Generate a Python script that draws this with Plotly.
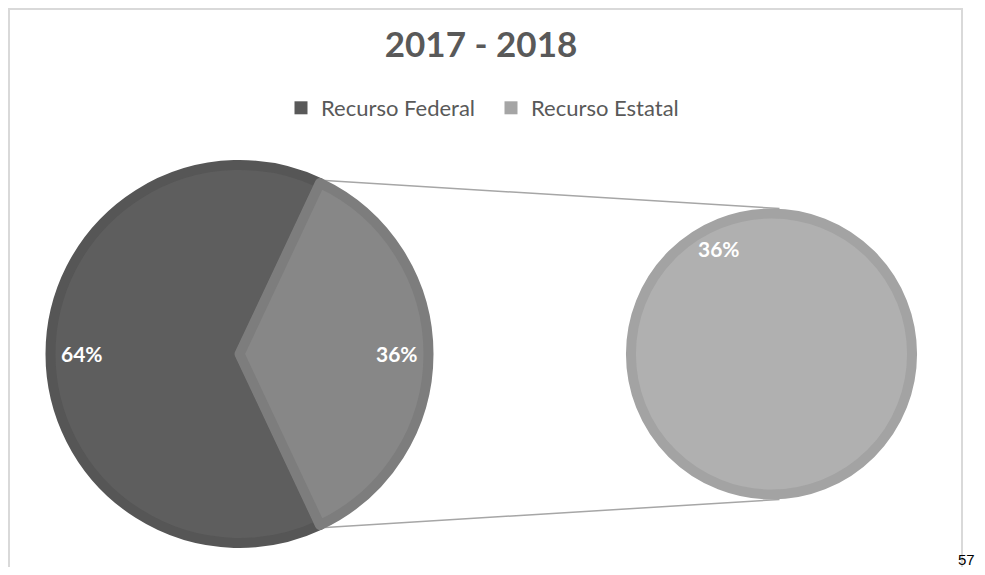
import math

import plotly.graph_objects as go

# the page body has an 8px margin, so the figure starts at (8, 8) of the window;
# keep it small enough that nothing gets clipped
OFF = 8
W, H = 985 - 2 * OFF, 575 - 2 * OFF

chart_title = "2017 - 2018"
labels = ["Recurso Federal", "Recurso Estatal"]
values = [64, 36]
# the split-off slice ("Recurso Estatal") shown again as its own pie
detail_labels = ["Recurso Estatal"]
detail_values = [36]
page_number = "57"

pie_fill = ["#5e5e5e", "#878787"]
pie_edge = ["#565656", "#7d7d7d"]
detail_fill = "#b0b0b0"
detail_edge = "#a3a3a3"
legend_colors = ["#595959", "#a5a5a5"]
text_grey = "#595959"
font_main = "Lato"


def px_x(x):
    return (x - OFF) / W


def px_y(y):
    return 1 - (y - OFF) / H


def pie_domain(cx, cy, r):
    return {"x": [px_x(cx - r), px_x(cx + r)], "y": [px_y(cy + r), px_y(cy - r)]}


# geometry in window pixels (chart is laid out with zero margins)
main_c = (239.5, 354)
main_outer = 194
detail_c = (771.5, 354)
detail_outer = 145.5
edge_w = 10

total = sum(values)
split_half = 180 * values[1] / total  # half the angle of the split slice

fig = go.Figure()

fig.add_trace(
    go.Pie(
        labels=labels,
        values=values,
        sort=False,
        direction="clockwise",
        rotation=90 + split_half,
        marker={"colors": pie_fill, "line": {"color": pie_edge, "width": edge_w}},
        textinfo="none",
        hoverinfo="label+percent",
        showlegend=False,
        domain=pie_domain(*main_c, main_outer - edge_w / 2),
    )
)

fig.add_trace(
    go.Pie(
        labels=detail_labels,
        values=detail_values,
        sort=False,
        marker={"colors": [detail_fill], "line": {"color": detail_edge, "width": edge_w}},
        textinfo="none",
        hoverinfo="label",
        showlegend=False,
        domain=pie_domain(*detail_c, detail_outer - edge_w / 2),
    )
)

# legend entries
for name, color in zip(labels, legend_colors):
    fig.add_trace(
        go.Scatter(
            x=[None],
            y=[None],
            mode="markers",
            name=name,
            marker={"symbol": "square", "size": 13, "color": color},
        )
    )

# data labels, placed like Excel's best fit (about 0.81 of the radius)
label_font = {"family": font_main, "size": 21, "color": "white", "weight": "bold"}
mid_angles = [180, 0]  # Federal on the left, Estatal on the right
for v, ang in zip(values, mid_angles):
    rr = main_outer * 0.81
    x = main_c[0] + rr * math.cos(math.radians(ang))
    y = main_c[1] - rr * math.sin(math.radians(ang))
    fig.add_annotation(x=px_x(x), y=px_y(y), xref="paper", yref="paper",
                       xanchor="center", yanchor="middle",
                       text=f"{v / total:.0%}", showarrow=False, font=label_font)

rr = detail_outer * 0.81
ang = 116.6
fig.add_annotation(
    x=px_x(detail_c[0] + rr * math.cos(math.radians(ang))),
    y=px_y(detail_c[1] - rr * math.sin(math.radians(ang))),
    xref="paper", yref="paper", xanchor="center", yanchor="middle",
    text=f"{detail_values[0] / total:.0%}", showarrow=False, font=label_font,
)

# connector lines between the split slice and the detail pie
a = math.radians(split_half)
for sgn in (1, -1):
    x0 = main_c[0] + (main_outer - 2) * math.cos(a)
    y0 = main_c[1] - sgn * (main_outer - 2) * math.sin(a)
    x1 = detail_c[0] + 8
    y1 = detail_c[1] - sgn * detail_outer
    fig.add_shape(type="line", xref="paper", yref="paper",
                  x0=px_x(x0), y0=px_y(y0), x1=px_x(x1), y1=px_y(y1),
                  line={"color": "#a6a6a6", "width": 1.5}, layer="below")

# chart frame (top/left edges as close to the window edge as the page allows)
fig.add_shape(type="rect", xref="paper", yref="paper",
              x0=px_x(OFF + 1), x1=px_x(962), y0=-0.2, y1=px_y(OFF + 1),
              line={"color": "#d9d9d9", "width": 2}, layer="below")

# page number outside the chart
fig.add_annotation(x=px_x(977), y=px_y(559), xref="paper", yref="paper",
                   xanchor="right", yanchor="middle",
                   text=page_number, showarrow=False,
                   font={"family": "Liberation Sans", "size": 15, "color": "black"})

fig.update_layout(
    width=W,
    height=H,
    autosize=False,
    margin={"l": 0, "r": 0, "t": 0, "b": 0},
    paper_bgcolor="white",
    plot_bgcolor="white",
    title={
        "text": chart_title,
        "x": px_x(481),
        "xanchor": "center",
        "y": px_y(45),
        "yanchor": "middle",
        "font": {"family": font_main, "size": 35, "color": text_grey, "weight": "bold"},
    },
    legend={
        "orientation": "h",
        "x": px_x(281),
        "xanchor": "left",
        "y": px_y(108),
        "yanchor": "middle",
        "font": {"family": font_main, "size": 22, "color": text_grey},
        "entrywidth": 165,
        "itemclick": False,
    },
    xaxis={"visible": False},
    yaxis={"visible": False},
)

fig.write_html("out.html")
